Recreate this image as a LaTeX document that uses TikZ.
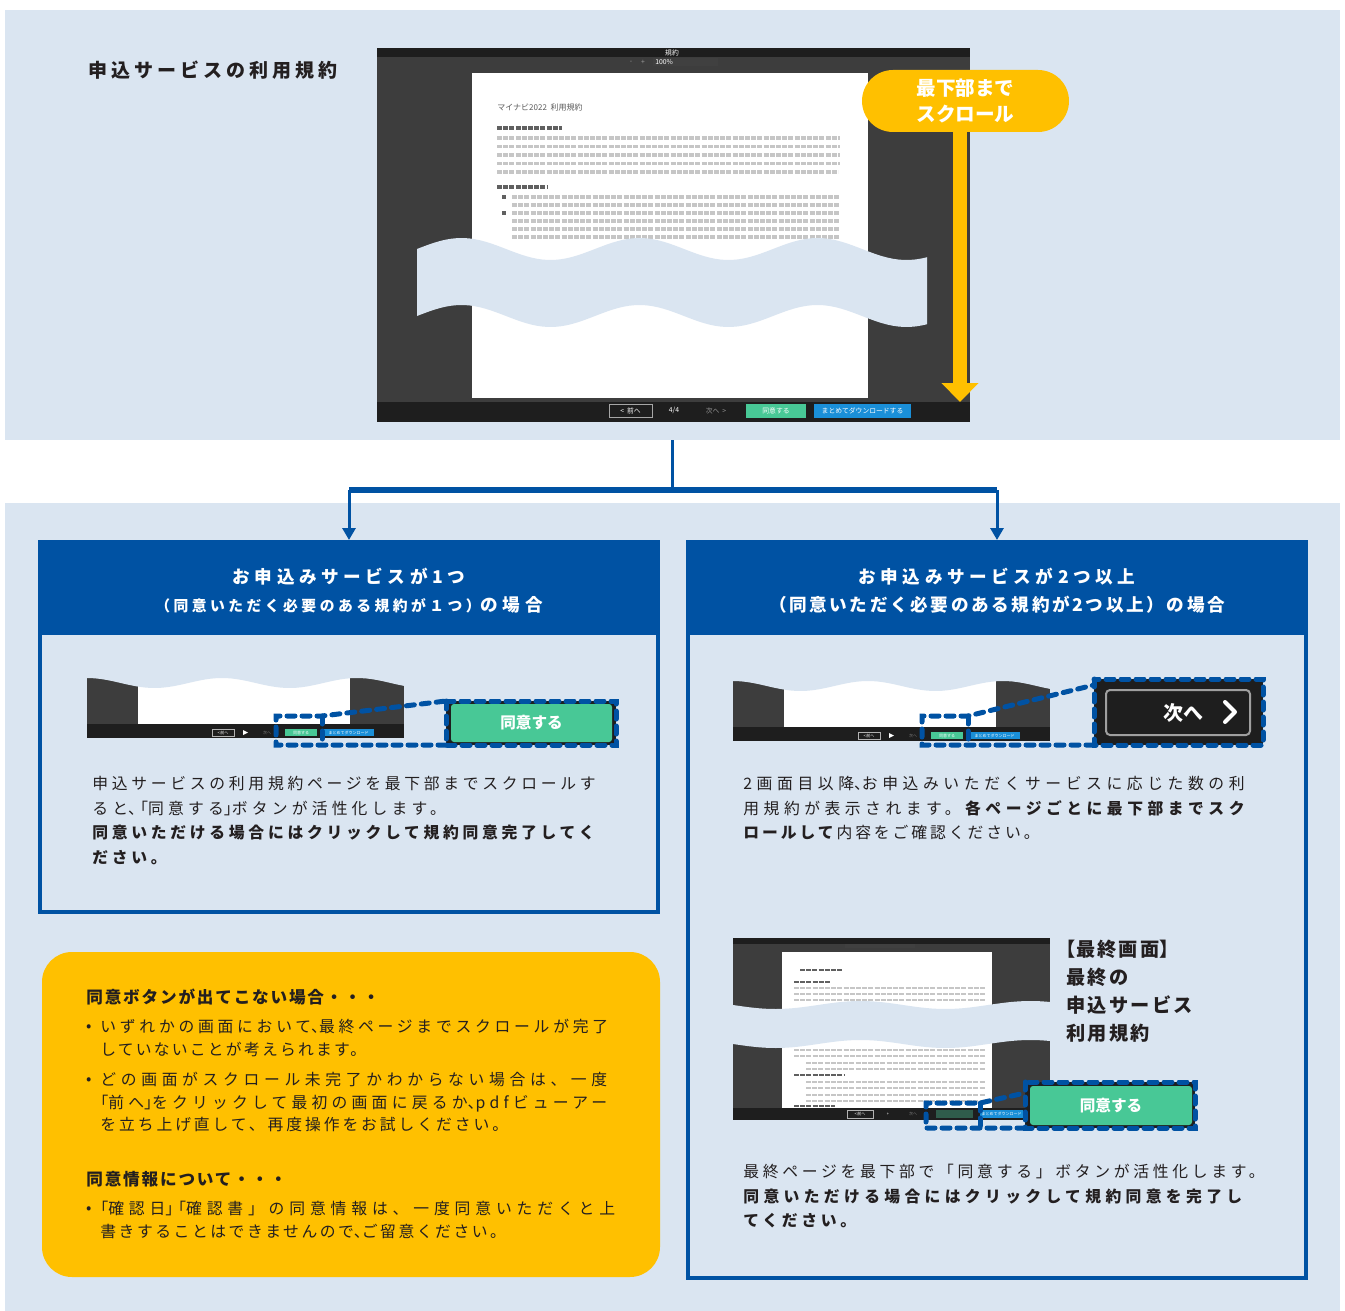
\documentclass[tikz,border=0pt]{standalone}
\usepackage{fontspec}
\setmainfont{Noto Sans CJK JP}
\usetikzlibrary{arrows.meta,positioning}

\definecolor{paleblue}{HTML}{DAE5F1}
\definecolor{navy}{HTML}{0052A3}
\definecolor{amber}{HTML}{FFC000}
\definecolor{mint}{HTML}{48C896}
\definecolor{dimmint}{HTML}{2F5C4B}
\definecolor{scrdark}{HTML}{3D3D3D}
\definecolor{scrbar}{HTML}{1E1E1E}
\definecolor{dlblue}{HTML}{1A8FD8}
\definecolor{inktext}{HTML}{231F20}

\newcommand\hdbig{\fontsize{8.8pt}{14pt}\selectfont\addfontfeature{LetterSpace=26}}
\newcommand\hdmid{\fontsize{8.8pt}{14pt}\selectfont\addfontfeature{LetterSpace=15}}
\newcommand\hdsmall{\fontsize{7.4pt}{14pt}\selectfont\addfontfeature{LetterSpace=23.5}}
\newcommand\hw[1]{{\addfontfeature{RawFeature=+halt}#1}} % half width punctuation
\newcommand\ls[2]{{\addfontfeature{LetterSpace=#1}#2}}  % tracking of one line

\tikzset{
  titletxt/.style={anchor=west,inner sep=0pt,text=inktext,
    font=\bfseries\fontsize{9.5pt}{11pt}\selectfont\addfontfeature{LetterSpace=21}},
  bodytxt/.style={anchor=north west,inner sep=0pt,align=left,text=inktext,
    font=\fontsize{7.9pt}{12.25pt}\selectfont\addfontfeature{LetterSpace=23.5}},
  notetxt/.style={anchor=north west,inner sep=0pt,align=left,text=inktext,
    font=\fontsize{7.9pt}{11.25pt}\selectfont\addfontfeature{LetterSpace=18}},
  dotmark/.style={anchor=north east,inner sep=0pt,text=inktext,font=\fontsize{7.9pt}{11.25pt}\selectfont},
  notehead/.style={anchor=west,inner sep=0pt,text=inktext,
    font=\bfseries\fontsize{8.3pt}{10pt}\selectfont\addfontfeature{LetterSpace=11}},
  casehead/.style={fill=navy,draw=navy,line width=2pt,text=white,align=center,
    minimum width=309pt,minimum height=45.5pt,inner sep=0pt,
    font=\bfseries\fontsize{8.8pt}{14pt}\selectfont},
  callout/.style={fill=amber,text=white,rounded corners=15.5pt,align=center,
    minimum width=103.5pt,minimum height=31pt,inner sep=0pt,
    font=\bfseries\fontsize{9.8pt}{13pt}\selectfont},
  finaltxt/.style={anchor=north west,inner sep=0pt,align=left,text=inktext,
    font=\bfseries\fontsize{9.6pt}{14pt}\selectfont\addfontfeature{LetterSpace=12}},
  tinytxt/.style={inner sep=0pt,font=\fontsize{3.4pt}{4pt}\selectfont},
  microtxt/.style={inner sep=0pt,text=white,font=\fontsize{2pt}{2.5pt}\selectfont},
  hilite/.style={navy,line width=2.5pt,dash pattern=on 4pt off 3.5pt,line cap=round},
  agreebtn/.style={fill=mint,rounded corners=1.5pt,text=white,inner sep=0pt,
    font=\bfseries\fontsize{7.8pt}{9pt}\selectfont},
  docline/.style={gray!45,line width=1.8pt,dash pattern=on 2.5pt off 0.6pt},
  dochead/.style={gray!75!black,line width=1.8pt,dash pattern=on 2.5pt off 0.6pt},
  minishot/.pic={
    \fill[scrdark] (0,-4) rectangle (317,46);
    \fill[white] (51,-4) rectangle (263,46);
    \fill[scrbar] (0,46) rectangle (317,60);
    \fill[paleblue] (-1,-8) -- (-1,0) -- plot[domain=0:317,samples=60] (\x,{5-5*cos(2.6667*\x)}) -- (318,-8) -- cycle;
    \draw[gray!60,line width=0.4pt] (125,51) rectangle (147,58);
    \node[microtxt] at (136,54.5) {<\,前へ};
    \fill[white] (156,52) -- (161,54.5) -- (156,57) -- cycle;
    \node[microtxt,text=gray] at (180,54.5) {次へ};
    \fill[mint] (198,51) rectangle (230,58);
    \node[microtxt] at (214,54.5) {同意する};
    \fill[dlblue] (236,51) rectangle (287,58);
    \node[microtxt] at (261.5,54.5) {まとめてダウンロード};
  }
}

\begin{document}
\begin{tikzpicture}[x=0.5pt,y=-0.5pt]
\useasboundingbox (0,0) rectangle (1345,1311);
\fill[white] (0,0) rectangle (1345,1311);
\fill[paleblue] (5,10) rectangle (1340,440); %top panel
\fill[paleblue] (5,503) rectangle (1340,1311); %lower panel

\node[titletxt] (termstitle) at (88,70) {申込サービスの利用規約};

% ---- terms screen
\fill[scrdark] (377,48) rectangle (970,422);
\fill[scrbar] (377,48) rectangle (970,57);
\node[tinytxt,text=white] at (672,52.5) {規約};
\node[tinytxt,text=gray!80] at (631,62) {-};
\node[tinytxt,text=gray!80] at (643,62) {+};
\fill[scrbar!85] (653,58.5) rectangle (718,66);
\node[tinytxt,text=white,anchor=west] at (655,62.2) {100\%};
\fill[white] (472,73) rectangle (868,398);
\node[tinytxt,text=gray!70!black,anchor=west,font=\fontsize{4pt}{5pt}\selectfont] at (497,107) {マイナビ2022\ \ 利用規約};
\draw[dochead] (497,128) -- (562,128);
\foreach \yy in {138,146.5,155,163.5} \draw[docline] (497,\yy) -- (840,\yy);
\draw[docline] (497,172) -- (838,172);
\draw[dochead] (497,187) -- (548,187);
\foreach \yy in {197,205,213,221,229,237} \draw[docline] (512,\yy) -- (840,\yy);
\draw[dochead] (502,197) -- (506,197);
\draw[dochead] (502,213) -- (506,213);
\fill[paleblue] plot[domain=417:927,samples=90] (\x,{249-11*sin(2.0225*(\x-417))})
  -- plot[domain=927:417,samples=90] (\x,{316-11*sin(2.0225*(\x-417))}) -- cycle; %cut band
\fill[scrbar] (377,402) rectangle (970,422);
\draw[gray!70,line width=0.5pt] (609,404) rectangle (652,417);
\node[tinytxt,text=white] at (630.5,410.5) {<\ \ 前へ};
\node[tinytxt,text=white] at (674,410.5) {4/4};
\node[tinytxt,text=gray!80] at (716,410.5) {次へ\ \ >};
\fill[mint] (746,404) rectangle (806,418);
\node[tinytxt,text=white] at (776,411) {同意する};
\fill[dlblue] (814,404) rectangle (911,418);
\node[tinytxt,text=white] at (862.5,411) {まとめてダウンロードする};

\node[callout] (scroll) at (965.5,101) {最下部まで\\スクロール};
\coordinate (scrollend) at (960,402);
\draw[amber,line width=7pt,-{Triangle[width=18pt,length=9.5pt]}] ([yshift=1pt]scrollend |- scroll.south) -- (scrollend);

% ---- the two cases
\draw[navy,line width=2pt,fill=paleblue] (40,542) rectangle (658,912);
\draw[navy,line width=2pt,fill=paleblue] (688,542) rectangle (1306,1278);
\node[casehead] (caseL) at (349,587.5) {{\rule{0pt}{10.7pt}\hdbig お申込みサービスが1つ}\\{\hdsmall （同意いただく必要のある規約が１つ）}{\hdbig の場合}};
\node[casehead] (caseR) at (997,587.5) {{\rule{0pt}{10.7pt}\hdbig お申込みサービスが2つ以上}\\{\hdmid （同意いただく必要のある規約が2つ以上）の場合}};

\coordinate (split) at (672,440);
\coordinate (fork) at (672,490);
\draw[navy,line width=1.5pt] (split) -- (fork);
\draw[navy,line width=3pt] (fork -| caseL) -- (fork -| caseR);
\draw[navy,line width=1.5pt,-{Triangle[width=6.5pt,length=6pt]}] (fork -| caseL) -- (caseL.north);
\draw[navy,line width=1.5pt,-{Triangle[width=6.5pt,length=6pt]}] (fork -| caseR) -- (caseR.north);

% left case
\pic at (87,678) {minishot};
\fill[scrbar] (446,701) rectangle (616,745);
\node[agreebtn,minimum width=80.5pt,minimum height=19pt] (agreeL) at (531.5,723) {同意する};
\draw[hilite] (446,745) -- (276,745) -- (276,716) -- (322,716) -- (446,701);
\draw[hilite] (322,716) -- (322,745);
\draw[hilite] (446,701) rectangle (616,745);
\node[bodytxt] (leftnote) at (92,776) {申込サービスの利用規約ページを最下部までスクロールす\\\ls{26.5}{ると\hw{、「}同意する\hw{」}ボタンが活性化します。}\\\textbf{同意いただける場合にはクリックして規約同意完了してく}\\\textbf{ださい。}};

% right case
\pic at (733,681) {minishot};
\fill[scrbar] (1094,679) rectangle (1263,745);
\node[draw=gray!75,line width=1pt,rounded corners=2pt,minimum width=72pt,minimum height=22.5pt,
  inner sep=0pt,text=white,font=\bfseries\fontsize{10pt}{12pt}\selectfont] (nextbtn) at (1178,712.5) {\hspace*{5pt}次へ};
\draw[white,line width=2pt,line cap=round,line join=round] (1225,702) -- (1235,712) -- (1225,722);
\draw[hilite] (1094,745) -- (922,745) -- (922,716) -- (968,716) -- (1094,685);
\draw[hilite] (968,716) -- (968,745);
\draw[hilite] (1094,679) rectangle (1263,745);
\node[bodytxt] (rightnote) at (743,776) {\ls{29}{2画面目以降\hw{、}お申込みいただくサービスに応じた数の利}\\\ls{28.5}{用規約が表示されます。\textbf{各ページごとに最下部までスク}}\\\ls{18.5}{\textbf{ロールして}内容をご確認ください。}};

% last screen
\fill[scrdark] (733,938) rectangle (1050,1120);
\fill[scrbar] (733,938) rectangle (1050,944);
\fill[scrbar!85] (845,944) rectangle (915,948);
\fill[white] (782,952) rectangle (992,1108);
\draw[dochead,line width=1.2pt] (800,970) -- (842,970);
\draw[dochead,line width=1.2pt] (794,982) -- (830,982);
\foreach \yy in {988,994,1000,1050,1056} \draw[docline,line width=1.2pt] (794,\yy) -- (985,\yy);
\foreach \yy in {1063,1069,1082,1088,1095,1101} \draw[docline,line width=1.2pt] (806,\yy) -- (985,\yy);
\draw[dochead,line width=1.2pt] (794,1075) -- (845,1075);
\draw[dochead,line width=1.2pt] (794,1106) -- (835,1106);
\fill[paleblue] plot[domain=733:1050,samples=60] (\x,{1005+4*sin(2.1176*(\x-733))})
  -- plot[domain=1050:733,samples=60] (\x,{1044+4*sin(2.1176*(\x-733))}) -- cycle;
\fill[scrbar] (733,1108) rectangle (1050,1120);
\draw[gray!60,line width=0.4pt] (847,1110) rectangle (873,1118);
\node[microtxt] at (860,1114) {<\,前へ};
\node[microtxt] at (888,1114) {+};
\node[microtxt,text=gray] at (913,1114) {次へ};
\fill[dimmint] (936,1110) rectangle (973,1118);
\fill[dlblue] (980,1110) rectangle (1023,1118);
\node[microtxt] at (1001.5,1114) {まとめてダウンロード};
\node[finaltxt] (finallabel) at (1066,940) {\hw{【}最終画面\hw{】}\\最終の\\申込サービス\\利用規約};
\fill[scrbar] (1025,1082) rectangle (1195,1128);
\node[agreebtn,minimum width=81pt,minimum height=19.5pt] (agreeR) at (1111,1105.5) {同意する};
\draw[hilite] (1025,1128) -- (926,1128) -- (926,1103) -- (980,1103) -- (1025,1093);
\draw[hilite] (980,1103) -- (980,1128);
\draw[hilite] (1025,1082) rectangle (1195,1128);
\node[bodytxt] (finalnote) at (743,1164) {最終ページを最下部で「同意する」ボタンが活性化します。\\\ls{27.5}{\textbf{同意いただける場合にはクリックして規約同意を完了し}}\\\textbf{てください。}};

% ---- notes
\fill[amber,rounded corners=15pt] (42,952) rectangle (660,1277);
\node[notehead] (nohead) at (86,997) {同意ボタンが出てこない場合・・・};
\node[notetxt] (nb1) at (100,1019) {\ls{23.7}{いずれかの画面において\hw{、}最終ページまでスクロールが完了}\\\ls{14}{していないことが考えられます。}};
\node[notetxt] (nb2) at (100,1072) {\ls{29.5}{どの画面がスクロール未完了かわからない場合は、一度}\\\ls{26.7}{\hw{「}前へ\hw{」}をクリックして最初の画面に戻るか\hw{、}pdfビューアー}\\\ls{18.5}{を立ち上げ直して、再度操作をお試しください。}};
\node[notehead] (infohead) at (86,1179) {同意情報について・・・};
\node[notetxt] (nb3) at (100,1201) {\ls{30.8}{\hw{「}確認日\hw{」「}確認書」の同意情報は、一度同意いただくと上}\\\ls{16}{書きすることはできませんので\hw{、}ご留意ください。}};
\foreach \b in {nb1,nb2,nb3} \node[dotmark] at ([xshift=-4pt]\b.north west) {\vphantom{国}•};
\end{tikzpicture}
\end{document}
